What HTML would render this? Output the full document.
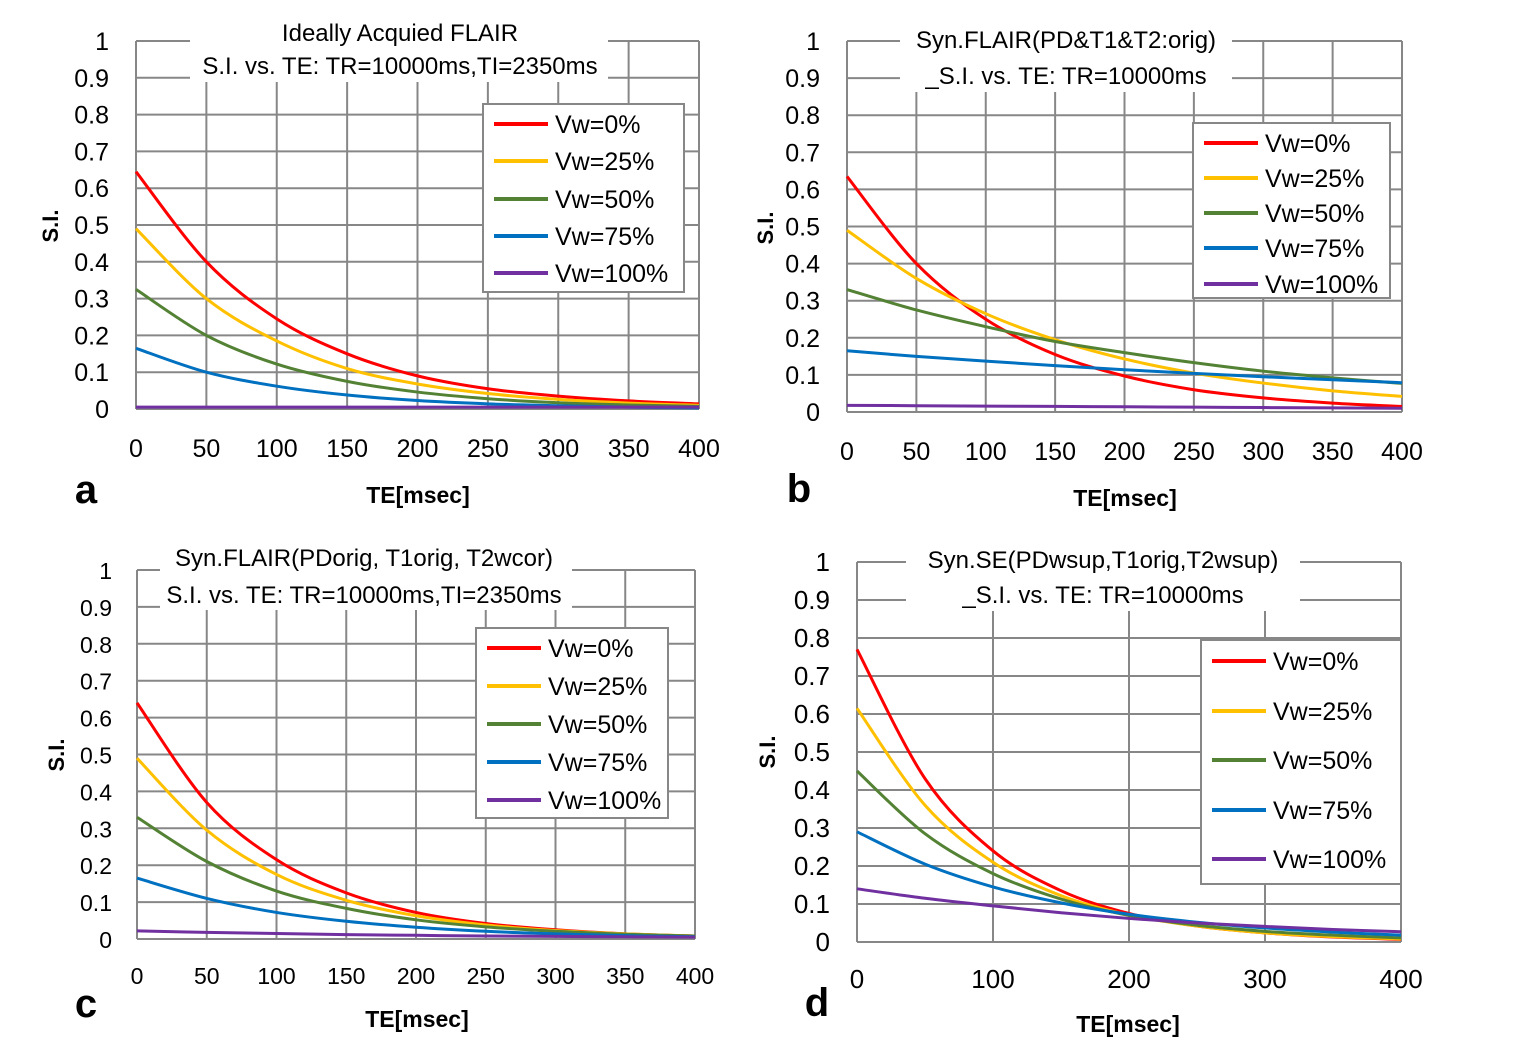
<!DOCTYPE html>
<html><head><meta charset="utf-8"><style>
html,body{margin:0;padding:0;background:#fff}
svg{display:block;font-family:"Liberation Sans",sans-serif}
</style></head><body>
<svg id="fig" width="1536" height="1050" viewBox="0 0 1536 1050"></svg>
<script>
const teValues=[0,50,100,150,200,250,300,350,400];
const seriesNames=["Vw=0%","Vw=25%","Vw=50%","Vw=75%","Vw=100%"];
const yTicks=[0,0.1,0.2,0.3,0.4,0.5,0.6,0.7,0.8,0.9,1];
const xTicksA=[0,50,100,150,200,250,300,350,400];
const xTicksD=[0,100,200,300,400];
const a0=[0.645,0.40,0.245,0.15,0.09,0.055,0.035,0.022,0.014];
const a25=[0.49,0.30,0.185,0.11,0.068,0.042,0.026,0.016,0.01];
const a50=[0.325,0.20,0.122,0.075,0.046,0.028,0.017,0.011,0.007];
const a75=[0.165,0.10,0.062,0.038,0.023,0.014,0.009,0.005,0.003];
const a100=[0.005,0.005,0.005,0.005,0.005,0.005,0.005,0.005,0.005];
const b0=[0.635,0.40,0.25,0.155,0.097,0.06,0.038,0.024,0.015];
const b25=[0.49,0.36,0.265,0.195,0.143,0.105,0.078,0.057,0.042];
const b50=[0.33,0.275,0.23,0.19,0.16,0.133,0.11,0.092,0.077];
const b75=[0.165,0.15,0.137,0.125,0.114,0.104,0.095,0.087,0.079];
const b100=[0.018,0.017,0.016,0.015,0.014,0.013,0.012,0.011,0.01];
const c0=[0.64,0.37,0.215,0.125,0.072,0.042,0.025,0.014,0.008];
const c25=[0.49,0.295,0.175,0.105,0.063,0.038,0.023,0.014,0.008];
const c50=[0.33,0.21,0.13,0.083,0.052,0.033,0.021,0.013,0.008];
const c75=[0.165,0.11,0.072,0.048,0.032,0.021,0.014,0.009,0.006];
const c100=[0.022,0.018,0.015,0.012,0.01,0.008,0.007,0.006,0.005];
const d0=[0.77,0.43,0.24,0.135,0.075,0.042,0.024,0.013,0.007];
const d25=[0.615,0.36,0.21,0.122,0.071,0.042,0.024,0.014,0.008];
const d50=[0.45,0.285,0.18,0.113,0.07,0.044,0.028,0.018,0.011];
const d75=[0.29,0.205,0.145,0.103,0.073,0.052,0.037,0.026,0.018];
const d100=[0.14,0.115,0.095,0.077,0.062,0.05,0.041,0.033,0.027];

const colors=["#FF0000","#FFC000","#548235","#0070C0","#7030A0"];
const NS="http://www.w3.org/2000/svg";
const svg=document.getElementById('fig');
function mk(tag,attrs,parent,text){const e=document.createElementNS(NS,tag);for(const k in attrs)e.setAttribute(k,attrs[k]);if(text!==undefined)e.textContent=text;(parent||svg).appendChild(e);return e;}

function panel(p){
  const g=mk('g',{});
  
  
  const sx=v=>p.x0+(v-0)/400*(p.x1-p.x0);
  const sy=v=>p.y0-(v)*(p.y0-p.y1);
  // grid
  yTicks.forEach(t=>{const l=mk('line',{x1:p.x0,x2:p.x1,y1:sy(t),y2:sy(t),stroke:'#878787','stroke-width':2},g);
    });
  for(let v=0;v<=400;v+=p.gridStep){const l=mk('line',{x1:sx(v),x2:sx(v),y1:p.y1,y2:p.y0,stroke:'#878787','stroke-width':2},g);
    }
  // y ticks
  yTicks.forEach(t=>{const e=mk('text',{x:p.ylx,y:sy(t)+9,'text-anchor':'end','font-size':p.fs,fill:'#000'},g,String(t));
    });
  p.xTicks.forEach(t=>{const e=mk('text',{x:sx(t),y:p.xly,'text-anchor':'middle','font-size':p.fs,fill:'#000'},g,String(t));
    });
  // title box
  const tb=mk('rect',{x:p.tb[0],y:p.tb[1],width:p.tb[2],height:p.tb[3],fill:'#fff'},g);
  
  p.title.forEach((s,i)=>{const e=mk('text',{x:p.tx,y:p.ty[i],'text-anchor':'middle','font-size':24,fill:'#000'},g,s);
    });
  // series
  p.series.forEach((arr,si)=>{
    const pts=teValues.map((t,i)=>[sx(t),sy(arr[i])]);
    let d='M'+pts[0][0]+','+pts[0][1];
    for(let i=0;i<pts.length-1;i++){
      const p0=pts[Math.max(0,i-1)],p1=pts[i],p2=pts[i+1],p3=pts[Math.min(pts.length-1,i+2)];
      const c1=[p1[0]+(p2[0]-p0[0])/6,p1[1]+(p2[1]-p0[1])/6];
      const c2=[p2[0]-(p3[0]-p1[0])/6,p2[1]-(p3[1]-p1[1])/6];
      d+=' C'+c1[0]+','+c1[1]+' '+c2[0]+','+c2[1]+' '+p2[0]+','+p2[1];
    }
    const path=mk('path',{d:d,fill:'none',stroke:colors[si],'stroke-width':3},g);
    
    
  });
  // legend
  const L=p.legend;
  const lb=mk('rect',{x:L.x,y:L.y,width:L.w,height:L.h,fill:'#fff',stroke:'#878787','stroke-width':2},g);
  
  seriesNames.forEach((n,i)=>{const yy=L.ys[i];
    const ln=mk('line',{x1:L.lx,x2:L.lx+54,y1:yy,y2:yy,stroke:colors[i],'stroke-width':4},g);
    
    const t=mk('text',{x:L.lx+61,y:yy+9,'font-size':25,fill:'#000'},g,n);
    });
  // axis titles
  const yt=mk('text',{x:0,y:0,transform:`translate(${p.yt[0]},${p.yt[1]}) rotate(-90)`,'text-anchor':'middle','font-size':22,'font-weight':'bold'},g,'S.I.');
  
  const xt=mk('text',{x:p.xt[0],y:p.xt[1],'text-anchor':'middle','font-size':23,'font-weight':'bold'},g,'TE[msec]');
  
  const lt=mk('text',{x:p.lt[0],y:p.lt[1],'text-anchor':'middle','font-size':40,'font-weight':'bold'},g,p.id);
  
}

panel({id:'a',x0:136,x1:699,y0:409,y1:41,gridStep:50,xTicks:xTicksA,fs:25,ylx:109,xly:457,
  tb:[190,18,418,64],tx:400,ty:[41,74],title:['Ideally Acquied  FLAIR','S.I. vs.  TE: TR=10000ms,TI=2350ms'],
  series:[a0,a25,a50,a75,a100],legend:{x:483,y:104,w:201,h:188,lx:494,ys:[124,161,199,236,273]},
  yt:[58,226],xt:[418,503],lt:[86,503]});
panel({id:'b',x0:847,x1:1402,y0:412,y1:41,gridStep:50,xTicks:xTicksA,fs:25,ylx:820,xly:460,
  tb:[900,22,332,70],tx:1066,ty:[48,84],title:['Syn.FLAIR(PD&T1&T2:orig)','_S.I. vs. TE: TR=10000ms'],
  series:[b0,b25,b50,b75,b100],legend:{x:1193,y:123,w:197,h:175,lx:1204,ys:[143,178,213,248,284]},
  yt:[773,228],xt:[1125,506],lt:[799,502]});
panel({id:'c',x0:137,x1:695,y0:939,y1:570,gridStep:50,xTicks:xTicksA,fs:23,ylx:112,xly:984,
  tb:[160,540,412,70],tx:364,ty:[566,603],title:['Syn.FLAIR(PDorig, T1orig, T2wcor)','S.I. vs. TE: TR=10000ms,TI=2350ms'],
  series:[c0,c25,c50,c75,c100],legend:{x:476,y:628,w:192,h:190,lx:487,ys:[648,686,724,762,800]},
  yt:[64,755],xt:[417,1027],lt:[86,1017]});
panel({id:'d',x0:857,x1:1401,y0:942,y1:562,gridStep:100,xTicks:xTicksD,fs:26,ylx:830,xly:988,
  tb:[906,545,394,66],tx:1103,ty:[568,603],title:['Syn.SE(PDwsup,T1orig,T2wsup)','_S.I. vs. TE: TR=10000ms'],
  series:[d0,d25,d50,d75,d100],legend:{x:1201,y:640,w:200,h:244,lx:1212,ys:[661,711,760,810,859]},
  yt:[775,752],xt:[1128,1032],lt:[817,1016]});
</script>
</body></html>
